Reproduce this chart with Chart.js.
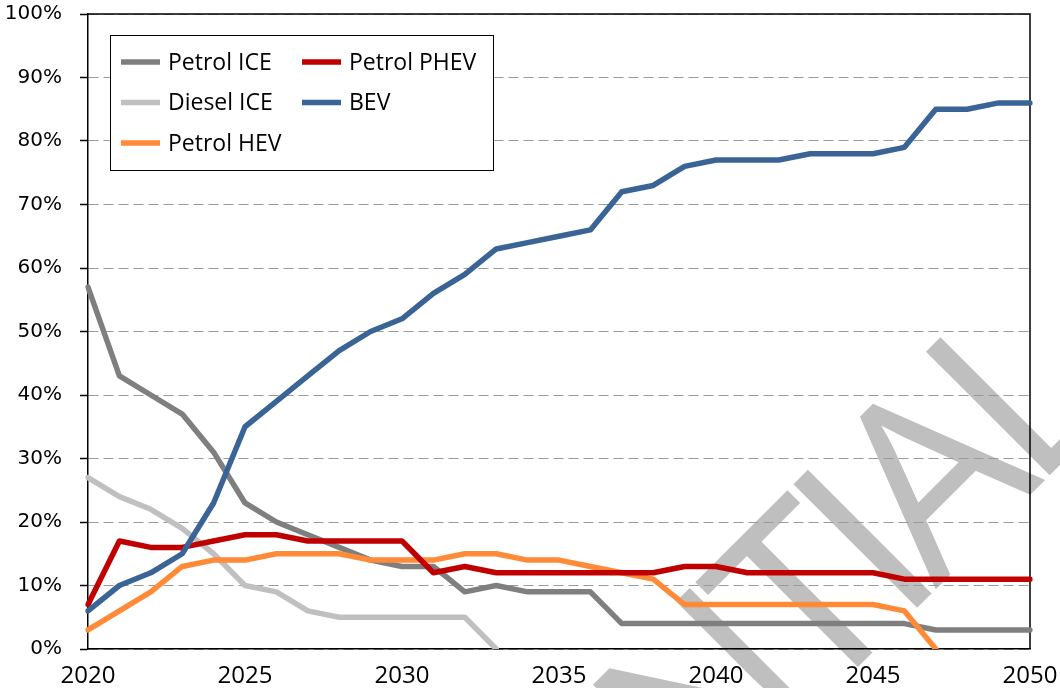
<!DOCTYPE html>
<html>
<head>
<meta charset="utf-8">
<script src="https://cdn.jsdelivr.net/npm/chart.js@4.4.1/dist/chart.umd.min.js"></script>
<style>
  html, body { margin: 0; padding: 0; background: #ffffff; }
  #wrap { width: 1060px; height: 688px; }
  canvas { display: block; }
</style>
</head>
<body>
<div id="wrap"><canvas id="c" width="1060" height="688"></canvas></div>
<script>
// ---- data ----
const years = [2020,2021,2022,2023,2024,2025,2026,2027,2028,2029,2030,2031,2032,2033,2034,2035,2036,2037,2038,2039,2040,2041,2042,2043,2044,2045,2046,2047,2048,2049,2050];
const xTickLabels = [2020, 2025, 2030, 2035, 2040, 2045, 2050];
const yTickLabels = ['0%','10%','20%','30%','40%','50%','60%','70%','80%','90%','100%'];

const petrolICE  = [57,43,40,37,31,23,20,18,16,14,13,13,9,10,9,9,9,4,4,4,4,4,4,4,4,4,4,3,3,3,3];
const dieselICE  = [27,24,22,19,15,10,9,6,5,5,5,5,5,0,null,null,null,null,null,null,null,null,null,null,null,null,null,null,null,null,null];
const petrolHEV  = [3,6,9,13,14,14,15,15,15,14,14,14,15,15,14,14,13,12,11,7,7,7,7,7,7,7,6,0,null,null,null];
const petrolPHEV = [7,17,16,16,17,18,18,17,17,17,17,12,13,12,12,12,12,12,12,13,13,12,12,12,12,12,11,11,11,11,11];
const bev        = [6,10,12,15,23,35,39,43,47,50,52,56,59,63,64,65,66,72,73,76,77,77,77,78,78,78,79,85,85,86,86];

const seriesNames = ['Petrol ICE', 'Diesel ICE', 'Petrol HEV', 'Petrol PHEV', 'BEV'];
const seriesValues = [petrolICE, dieselICE, petrolHEV, petrolPHEV, bev];
const seriesColors = ['#7f7f7f', '#c0c0c0', '#ff8b38', '#c00000', '#3a6496'];
const seriesOrder  = [5, 4, 3, 2, 1];
const watermarkText = 'CONFIDENTIAL';

// ---- plugins ----
const watermarkPlugin = {
  id: 'watermark',
  beforeDraw(chart) {
    const ctx = chart.ctx;
    ctx.save();
    ctx.fillStyle = '#bfbfbf';
    ctx.font = '400 245px "Open Sans"';
    if ('letterSpacing' in ctx) ctx.letterSpacing = '-18px';
    ctx.textBaseline = 'alphabetic';
    ctx.textAlign = 'left';
    const pre = ctx.measureText('CONFIDENT').width;
    const wI = ctx.measureText('I').width;
    ctx.translate(918, 607);
    ctx.rotate(-Math.PI / 4);
    ctx.fillText(watermarkText, -pre - wI / 2, 0);
    ctx.restore();
  }
};

const framePlugin = {
  id: 'frame',
  beforeDatasetsDraw(chart) {
    const { ctx, chartArea: a } = chart;
    ctx.save();
    ctx.strokeStyle = '#000000';
    ctx.lineWidth = 1.5;
    ctx.beginPath();
    ctx.moveTo(a.left, a.top);
    ctx.lineTo(a.right, a.top);
    ctx.lineTo(a.right, a.bottom);
    ctx.stroke();
    ctx.restore();
  }
};

const boxLegendPlugin = {
  id: 'boxLegend',
  afterDraw(chart) {
    const { ctx, chartArea: a } = chart;
    const x0 = a.left + 22, y0 = a.top + 21, w = 383, h = 135;
    ctx.save();
    ctx.fillStyle = '#ffffff';
    ctx.fillRect(x0, y0, w, h);
    ctx.strokeStyle = '#000000';
    ctx.lineWidth = 1;
    ctx.strokeRect(x0 + 0.5, y0 + 0.5, w, h);
    ctx.font = '23px "Open Sans"';
    ctx.textBaseline = 'middle';
    ctx.textAlign = 'left';
    chart.data.datasets.forEach((ds, i) => {
      const col = Math.floor(i / 3), row = i % 3;
      const lx = x0 + 11 + col * 181;
      const ly = y0 + 27 + row * 40.5;
      ctx.strokeStyle = ds.borderColor;
      ctx.lineWidth = 5.5;
      ctx.beginPath();
      ctx.moveTo(lx, ly);
      ctx.lineTo(lx + 39, ly);
      ctx.stroke();
      ctx.fillStyle = '#000000';
      ctx.fillText(ds.label, lx + 47, ly + 1);
    });
    ctx.restore();
  }
};

function build() {
  const ctx = document.getElementById('c').getContext('2d');
  new Chart(ctx, {
    type: 'line',
    data: {
      labels: years,
      datasets: seriesNames.map((name, i) => ({
        label: name,
        data: seriesValues[i],
        borderColor: seriesColors[i],
        backgroundColor: seriesColors[i],
        borderWidth: 5.5,
        pointRadius: 0,
        pointHoverRadius: 0,
        tension: 0,
        spanGaps: false,
        borderJoinStyle: 'round',
        borderCapStyle: 'round',
        fill: false,
        order: seriesOrder[i]
      }))
    },
    options: {
      responsive: false,
      animation: false,
      events: [],
      layout: { padding: { top: 14, right: 30, left: 0, bottom: 0 } },
      plugins: {
        legend: { display: false },
        tooltip: { enabled: false },
        title: { display: false }
      },
      scales: {
        x: {
          type: 'category',
          offset: false,
          grid: { display: false, drawTicks: false },
          border: { display: true, color: '#000000', width: 1.5 },
          ticks: {
            autoSkip: false,
            maxRotation: 0,
            minRotation: 0,
            padding: 13,
            color: '#000000',
            font: { family: '"Open Sans"', size: 24 },
            callback: (v, idx) => xTickLabels.includes(years[idx]) ? String(years[idx]) : null
          },
          afterFit: (s) => { s.height = 39; s.paddingLeft = 0; s.paddingRight = 0; }
        },
        y: {
          min: 0,
          max: 100,
          grid: {
            color: '#9a9a9a',
            lineWidth: 1,
            drawTicks: true,
            tickLength: 8,
            tickColor: '#000000',
            tickWidth: 1.5,
            tickBorderDash: []
          },
          border: { display: true, color: '#000000', width: 1.5, dash: [10, 5] },
          ticks: {
            stepSize: 10,
            padding: 18,
            color: '#000000',
            font: { family: '"DejaVu Sans"', size: 20 },
            callback: (v) => yTickLabels[Math.round(v / 10)]
          },
          afterFit: (s) => { s.width = 88; s.paddingTop = 0; s.paddingBottom = 0; }
        }
      }
    },
    plugins: [watermarkPlugin, framePlugin, boxLegendPlugin]
  });
}

if (document.fonts && document.fonts.load) {
  Promise.all([
    document.fonts.load('24px "Open Sans"'),
    document.fonts.load('400 245px "Open Sans"'),
    document.fonts.load('20px "DejaVu Sans"')
  ]).then(build, build);
} else {
  build();
}
</script>
</body>
</html>
